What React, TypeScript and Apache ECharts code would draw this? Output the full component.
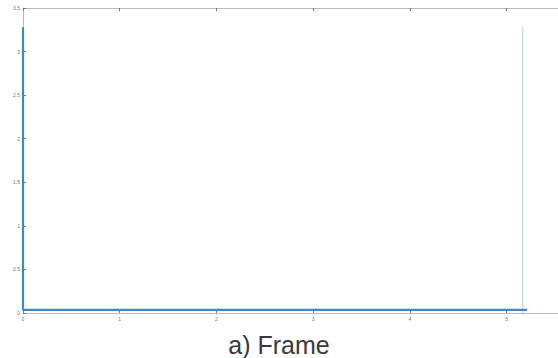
import React, { useEffect, useRef } from "react";
import * as echarts from "echarts";

const xTicks = [0, 1, 2, 3, 4, 5];
const yTicks = [0, 0.5, 1, 1.5, 2, 2.5, 3, 3.5];
const frameX = [0, 0, 5.21];
const frameY = [3.28, 0.035, 0.035];
const endX = [5.165, 5.165];
const endY = [0, 3.28];
const titleText = "a) Frame";

export default function App() {
  const ref = useRef<HTMLDivElement>(null);
  useEffect(() => {
    if (!ref.current) return;
    const chart = echarts.init(ref.current, undefined, { renderer: "svg" });
    const axisLabel = { fontSize: 5, color: "#777", fontFamily: "Liberation Sans" };
    chart.setOption({
      animation: false,
      backgroundColor: "#ffffff",
      title: {
        text: titleText,
        left: "center",
        top: 327,
        textStyle: { fontSize: 25, fontWeight: "normal", color: "#3a3a3a", fontFamily: "Liberation Sans" },
      },
      grid: { left: 23, top: 8, right: 0, bottom: 45, show: false },
      xAxis: [
        {
          type: "value",
          min: 0,
          max: 5.53,
          interval: 1,
          position: "bottom",
          axisLine: { show: true, lineStyle: { color: "#b8b8b8" } },
          axisTick: { show: true, inside: true, length: 3, lineStyle: { color: "#777" } },
          axisLabel: { ...axisLabel, margin: 3, showMaxLabel: false, formatter: (v: number) => (xTicks.includes(v) ? String(v) : "") },
          splitLine: { show: false },
        },
        {
          type: "value",
          min: 0,
          max: 5.53,
          interval: 1,
          position: "top",
          axisLine: { show: true, lineStyle: { color: "#b8b8b8" } },
          axisTick: { show: true, inside: true, length: 3, lineStyle: { color: "#777" } },
          axisLabel: { show: false },
          splitLine: { show: false },
        },
      ],
      yAxis: {
        type: "value",
        min: 0,
        max: 3.5,
        interval: 0.5,
        axisLine: { show: true, lineStyle: { color: "#b8b8b8" } },
        axisTick: { show: true, inside: true, length: 3, lineStyle: { color: "#777" } },
        axisLabel: { ...axisLabel, margin: 3, formatter: (v: number) => (yTicks.includes(v) ? String(v) : "") },
        splitLine: { show: false },
      },
      series: [
        {
          type: "line",
          data: endX.map((x, i) => [x, endY[i]]),
          symbol: "none",
          lineStyle: { color: "#c9dcec", width: 1.5 },
        },
        {
          type: "line",
          data: frameX.map((x, i) => [x, frameY[i]]),
          symbol: "none",
          lineStyle: { color: "#3f88c2", width: 2.2 },
        },
      ],
    });
    return () => chart.dispose();
  }, []);
  return <div ref={ref} style={{ position: "fixed", left: 0, top: 0, width: 558, height: 358 }} />;
}
